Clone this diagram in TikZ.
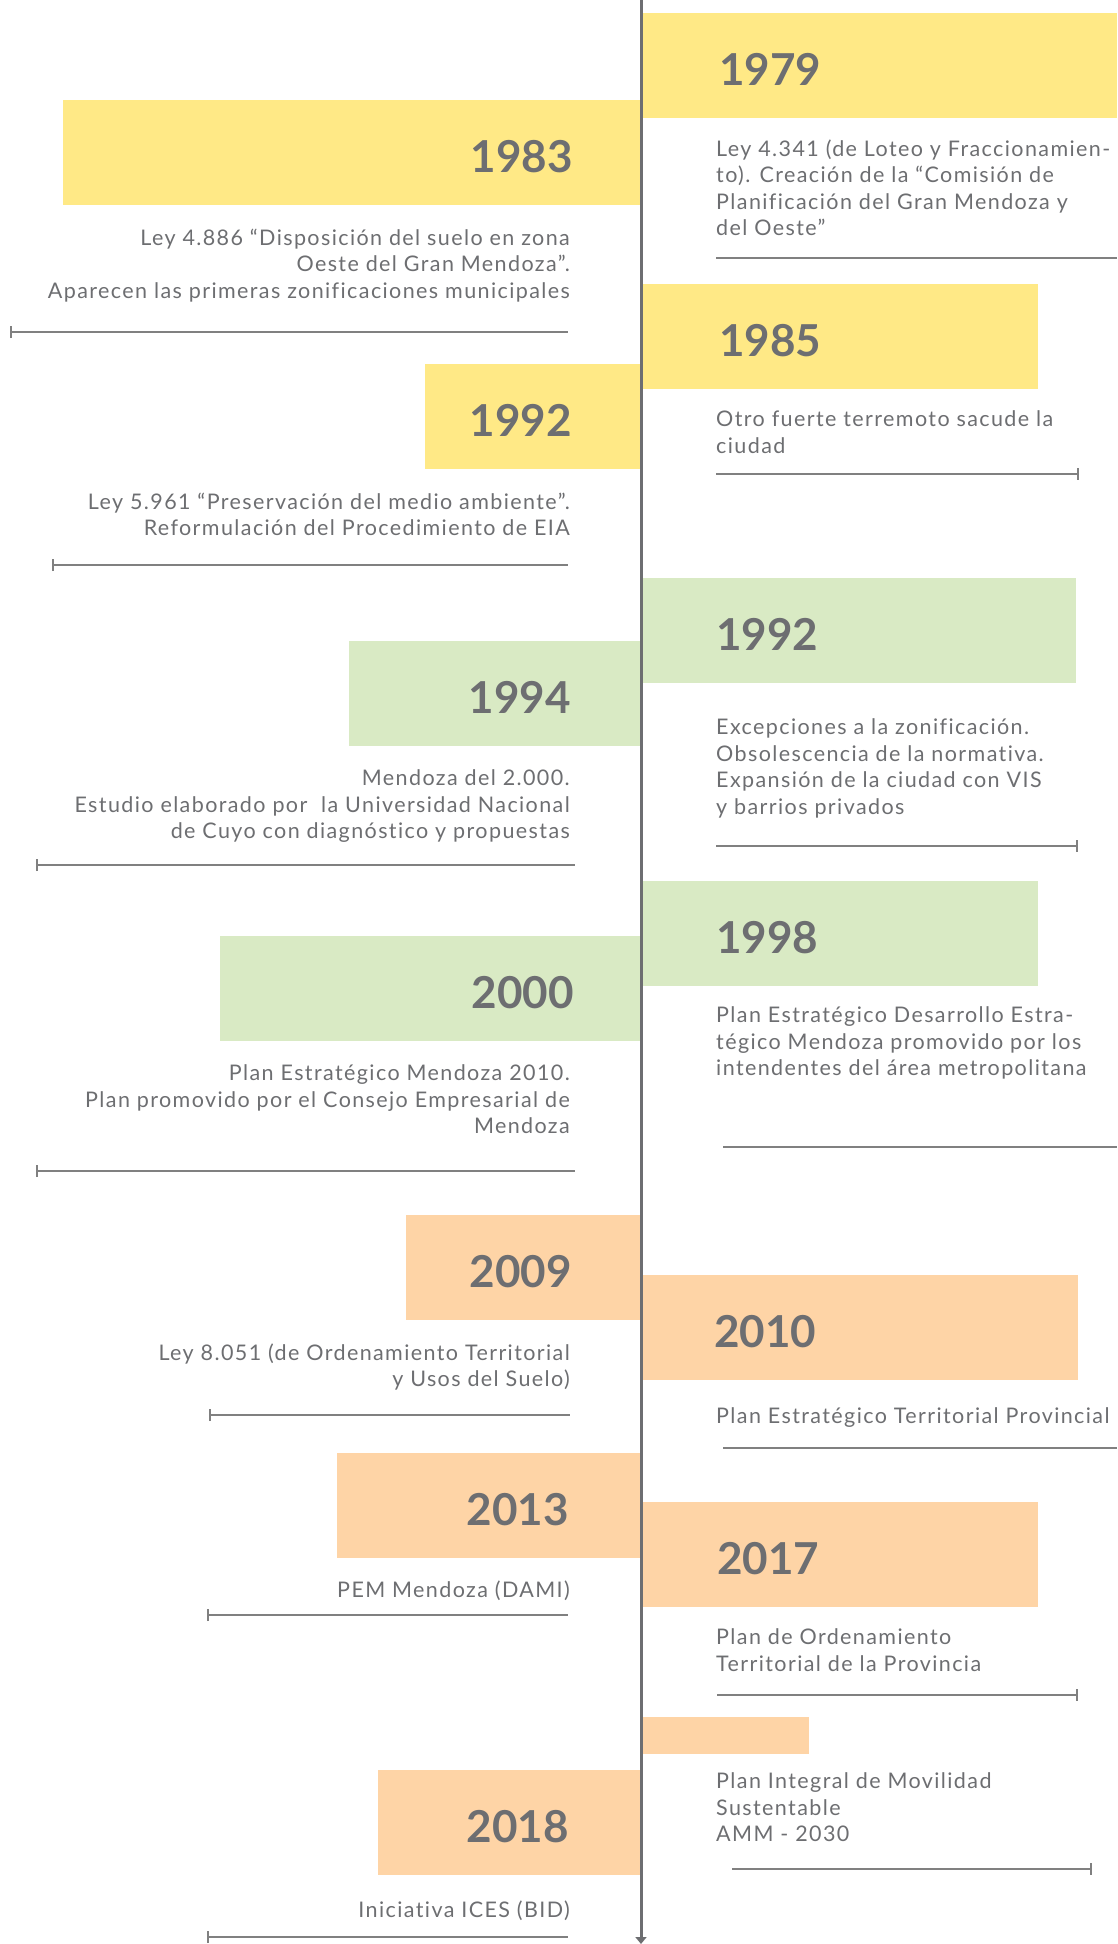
\documentclass[tikz,border=0pt]{standalone}
\usepackage{fontspec}
\setmainfont{Lato}
\newfontfamily\descfont{Lato}[LetterSpace=6.5, Ligatures=NoCommon]
\usetikzlibrary{arrows.meta}
\definecolor{yellowbox}{HTML}{FFE986}
\definecolor{greenbox}{HTML}{D9EAC4}
\definecolor{orangebox}{HTML}{FED4A6}
\definecolor{textgray}{HTML}{6D6E71}
\definecolor{rulegray}{HTML}{808080}

\tikzset{
  yearbox/.style={fill=#1, draw=none, inner sep=0pt, outer sep=0pt, minimum height=105pt},
  year/.style={text=textgray, font=\fontsize{44}{50}\selectfont\bfseries, inner sep=0pt},
  desc/.style={text=textgray, font=\descfont\fontsize{21.5}{26.5}\selectfont, inner sep=0pt,
    execute at begin node=\strut},
  descl/.style={desc, align=right, anchor=north east},
  descr/.style={desc, align=left, anchor=north west},
  sep/.style={rulegray, line width=2pt},
}

\begin{document}
\begin{tikzpicture}[x=1pt, y=-1pt]
  \useasboundingbox (0,0) rectangle (1117,1944);

  % Boxes on the right of the axis
  \node[yearbox=yellowbox, minimum width=476pt, anchor=north west] (b1979) at (641,12.7) {};
  \node[yearbox=yellowbox, minimum width=397pt, anchor=north west] (b1985) at (641,284) {};
  \node[yearbox=greenbox, minimum width=435pt, anchor=north west] (b1992r) at (641,578) {};
  \node[yearbox=greenbox, minimum width=397pt, anchor=north west] (b1998) at (641,881) {};
  \node[yearbox=orangebox, minimum width=437pt, anchor=north west] (b2010) at (641,1275) {};
  \node[yearbox=orangebox, minimum width=397pt, anchor=north west] (b2017) at (641,1502) {};
  \node[yearbox=orangebox, minimum width=168pt, minimum height=37pt, anchor=north west] (bpim) at (641,1717) {};

  % Boxes on the left of the axis
  \node[yearbox=yellowbox, minimum width=578pt, anchor=north east] (b1983) at (641,100) {};
  \node[yearbox=yellowbox, minimum width=216pt, anchor=north east] (b1992l) at (641,364) {};
  \node[yearbox=greenbox, minimum width=292pt, anchor=north east] (b1994) at (641,641) {};
  \node[yearbox=greenbox, minimum width=421pt, anchor=north east] (b2000) at (641,936) {};
  \node[yearbox=orangebox, minimum width=235pt, anchor=north east] (b2009) at (641,1215) {};
  \node[yearbox=orangebox, minimum width=304pt, anchor=north east] (b2013) at (641,1453) {};
  \node[yearbox=orangebox, minimum width=263pt, anchor=north east] (b2018) at (641,1770) {};

  % Time axis
  \coordinate (top) at (641,0);
  \coordinate (bottom) at (641,1944);
  \draw[textgray, line width=3pt, -{Triangle[width=11pt,length=7pt]}] (top) -- (bottom);

  % Years
  \node[year, anchor=base west] (y1979) at (719,85) {1979};
  \node[year, anchor=base west] (y1985) at (719,356) {1985};
  \node[year, anchor=base west] (y1992r) at (716,650) {1992};
  \node[year, anchor=base west] (y1998) at (716,953) {1998};
  \node[year, anchor=base west] (y2010) at (714,1347) {2010};
  \node[year, anchor=base west] (y2017) at (717,1574) {2017};
  \node[year, anchor=base east] (y1983) at (573,172) {1983};
  \node[year, anchor=base east] (y1992l) at (572,436) {1992};
  \node[year, anchor=base east] (y1994) at (571,713) {1994};
  \node[year, anchor=base east] (y2000) at (574,1008) {2000};
  \node[year, anchor=base east] (y2009) at (572,1287) {2009};
  \node[year, anchor=base east] (y2013) at (569,1525) {2013};
  \node[year, anchor=base east] (y2018) at (569,1842) {2018};

  % Texts on the right
  \node[descr] (d1979) at (716,139.5) {Ley 4.341 (de Loteo y Fraccionamien-\\to). Creación de la “Comisión de\\Planificación del Gran Mendoza y\\del Oeste”};
  \node[descr] (d1985) at (716,410.5) {Otro fuerte terremoto sacude la\\ciudad};
  \node[descr] (d1992r) at (716,718.5) {Excepciones a la zonificación.\\Obsolescencia de la normativa.\\Expansión de la ciudad con VIS\\y barrios privados};
  \node[descr] (d1998) at (716,1006.5) {Plan Estratégico Desarrollo Estra-\\tégico Mendoza promovido por los\\intendentes del área metropolitana};
  \node[descr] (d2010) at (716,1404.5) {Plan Estratégico Territorial Provincial};
  \node[descr] (d2017) at (716,1628.5) {Plan de Ordenamiento\\Territorial de la Provincia};
  \node[descr] (dpim) at (716,1772.5) {Plan Integral de Movilidad\\Sustentable\\AMM - 2030};

  % Texts on the left
  \node[descl] (d1983) at (570,228.5) {Ley 4.886 “Disposición del suelo en zona\\Oeste del Gran Mendoza”.\\Aparecen las primeras zonificaciones municipales};
  \node[descl] (d1992l) at (570,492.5) {Ley 5.961 “Preservación del medio ambiente”.\\Reformulación del Procedimiento de EIA};
  \node[descl] (d1994) at (570,769.5) {Mendoza del 2.000.\\Estudio elaborado por\ \ la Universidad Nacional\\de Cuyo con diagnóstico y propuestas};
  \node[descl] (d2000) at (570,1064.5) {Plan Estratégico Mendoza 2010.\\Plan promovido por el Consejo Empresarial de\\Mendoza};
  \node[descl] (d2009) at (570,1343.5) {Ley 8.051 (de Ordenamiento Territorial\\y Usos del Suelo)};
  \node[descl] (d2013) at (570,1578.5) {PEM Mendoza (DAMI)};
  \node[descl] (d2018) at (570,1898.5) {Iniciativa ICES (BID)};

  % Rules under the texts
  \draw[sep] (716,258) -- (1117,258);
  \draw[sep, -{Bar[width=12pt]}] (716,474) -- (1079,474);
  \draw[sep, -{Bar[width=12pt]}] (716,846) -- (1078,846);
  \draw[sep] (723,1147) -- (1117,1147);
  \draw[sep] (723,1448) -- (1117,1448);
  \draw[sep, -{Bar[width=12pt]}] (717,1695) -- (1078,1695);
  \draw[sep, -{Bar[width=12pt]}] (732,1869) -- (1092,1869);
  \draw[sep, {Bar[width=12pt]}-] (10,332) -- (568,332);
  \draw[sep, {Bar[width=12pt]}-] (52,565) -- (568,565);
  \draw[sep, {Bar[width=12pt]}-] (36,865) -- (575,865);
  \draw[sep, {Bar[width=12pt]}-] (36,1171) -- (575,1171);
  \draw[sep, {Bar[width=12pt]}-] (209,1415) -- (570,1415);
  \draw[sep, {Bar[width=12pt]}-] (207,1615) -- (568,1615);
  \draw[sep, {Bar[width=12pt]}-] (207,1937) -- (568,1937);
\end{tikzpicture}
\end{document}
